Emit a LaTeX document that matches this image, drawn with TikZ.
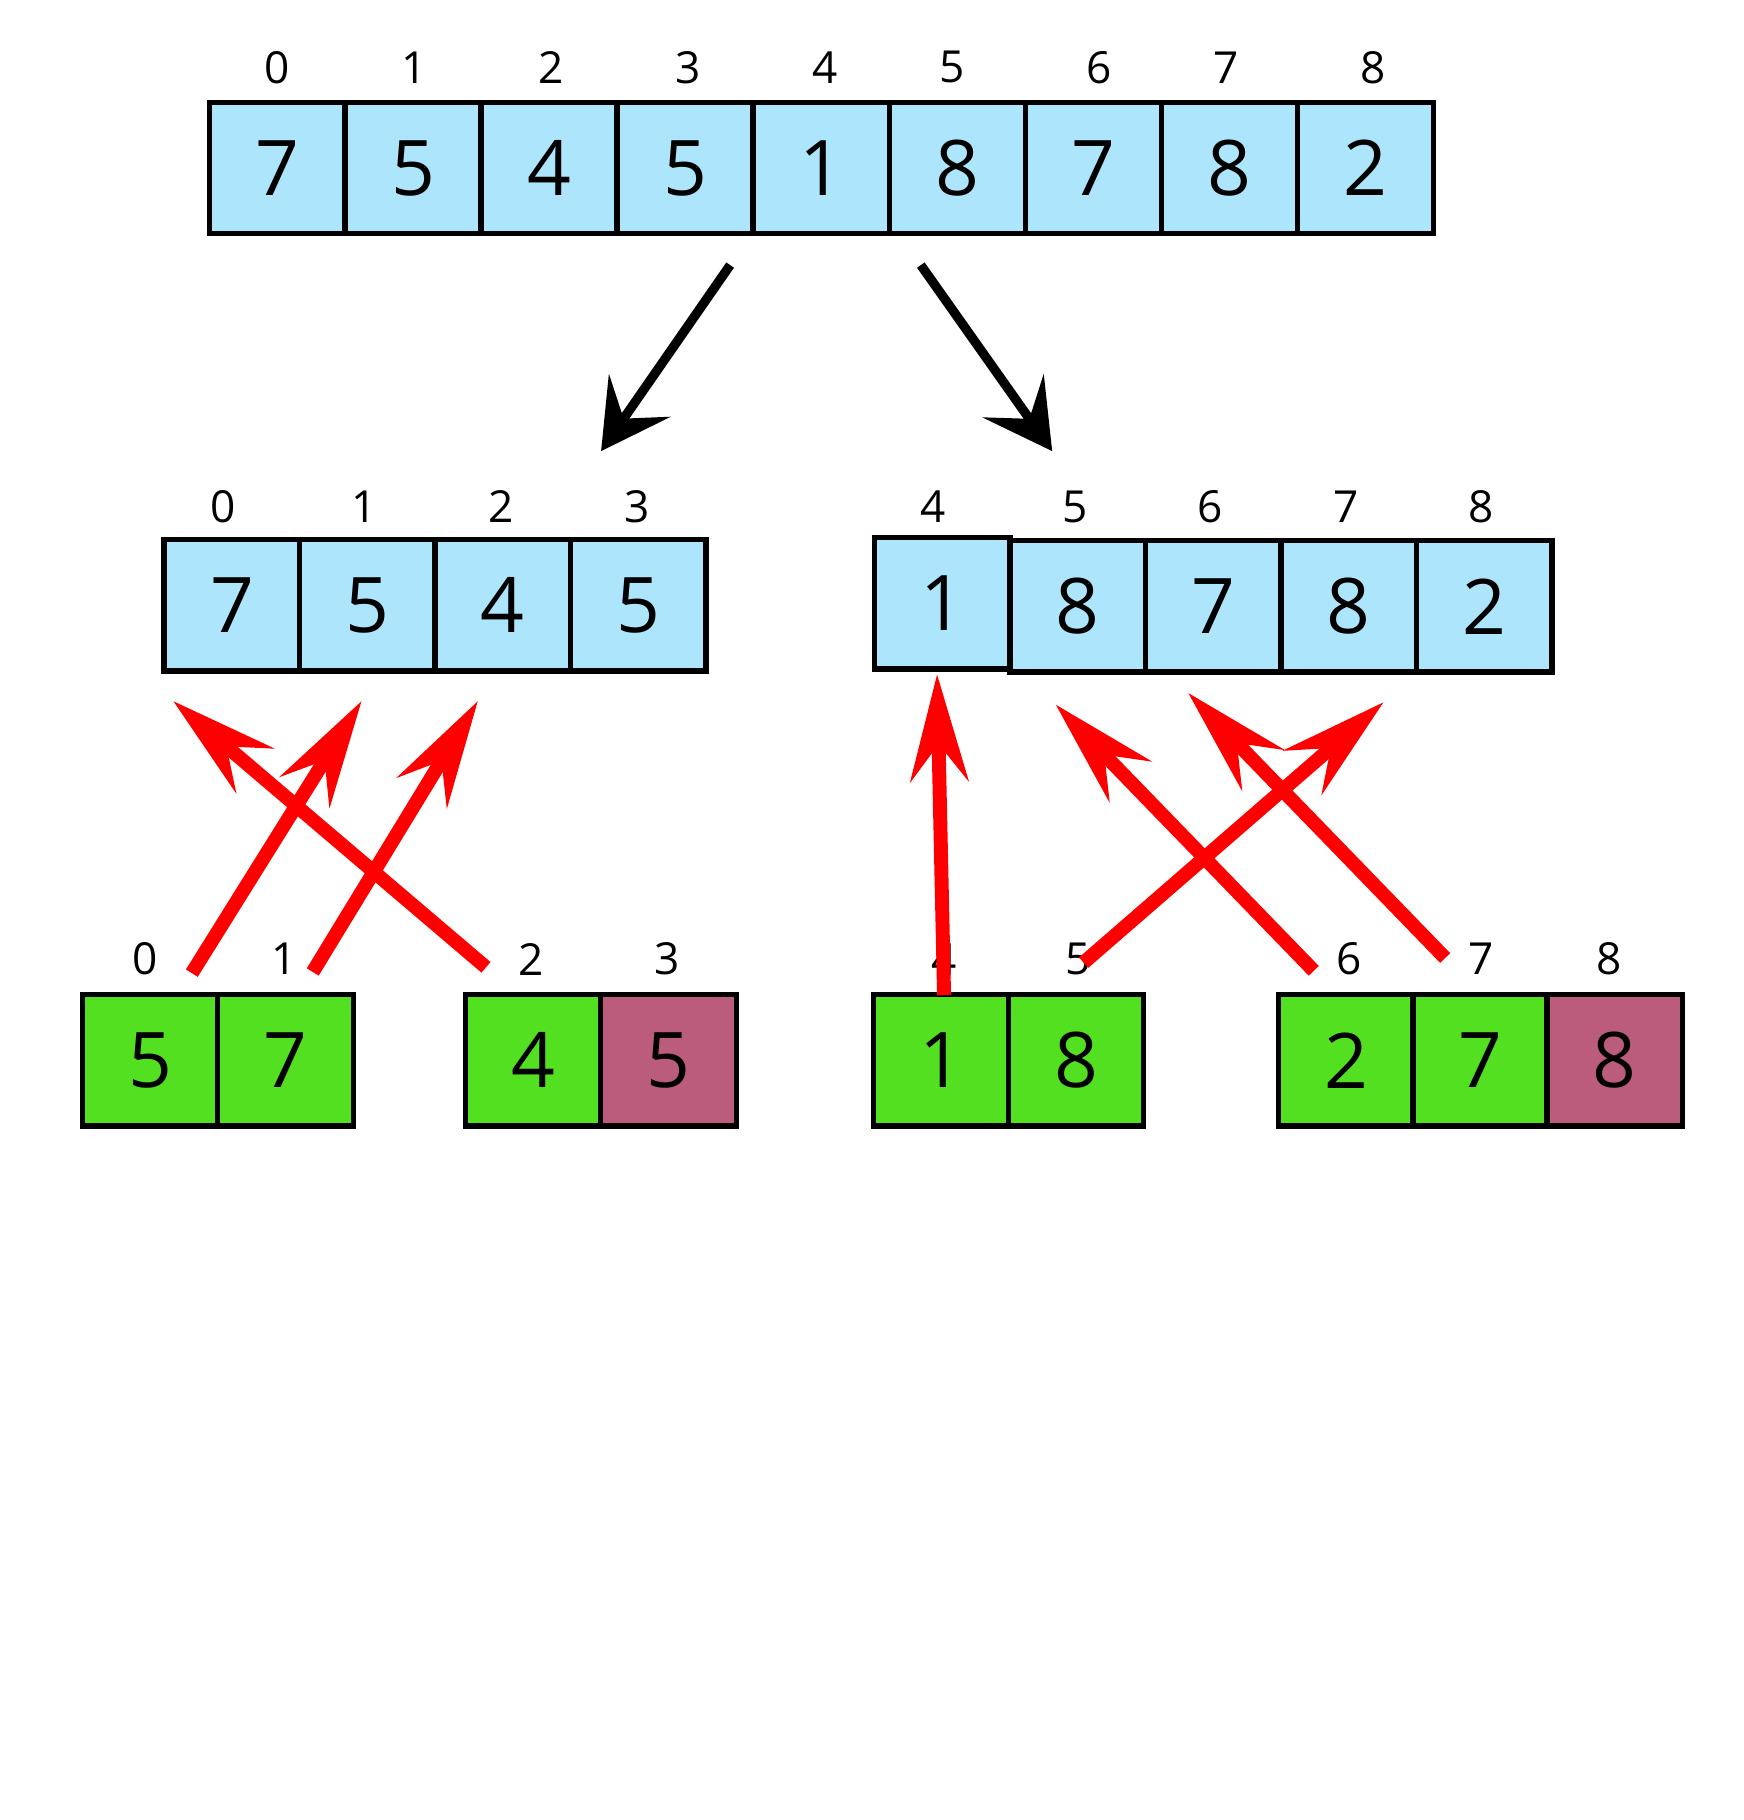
\documentclass[tikz,border=0pt]{standalone}
\usepackage{fontspec}
\setmainfont{Open Sans}
\usetikzlibrary{arrows.meta}
\definecolor{cblue}{RGB}{173,230,252}
\definecolor{cgreen}{RGB}{82,224,33}
\definecolor{cmauve}{RGB}{188,92,124}
\definecolor{cred}{RGB}{255,0,0}
\begin{document}
\begin{tikzpicture}[x=0.5pt,y=-0.5pt,
  cell/.style={draw=black, line width=2.3pt, minimum width=58.3pt, minimum height=56.5pt, inner sep=0pt, font=\fontsize{33}{33}\selectfont},
  idx/.style={font=\fontsize{19}{19}\selectfont, inner sep=0pt},
  bigarrow/.style={draw=black, line width=4pt, -{Stealth[length=29pt,width=32pt,inset=12pt]}},
  redarrow/.style={draw=cred, line width=6pt, -{Stealth[length=46pt,width=25pt,inset=16pt]}}]
\useasboundingbox (0,0) rectangle (1500,1565.4);

% top row
\foreach \v [count=\i from 0] in {7,5,4,5,1,8,7,8,2}
  \node[cell, fill=cblue] (t\i) at (238.5+117*\i,144.5) {\v};
\foreach \x [count=\i from 0] in {238,356,474,592,710,819,945,1055,1181}
  \node[idx] (tl\i) at (\x,58) {\i};

% middle left
\foreach \v [count=\i from 0] in {7,5,4,5}
  \node[cell, fill=cblue] (ml\i) at (199.5+116.5*\i,520.5) {\v};
\foreach \x [count=\i from 0] in {192,313,431,548}
  \node[idx] (mll\i) at (\x,436) {\i};

% middle right
\node[cell, fill=cblue] (mr4) at (810.3,519) {1};
\foreach \v [count=\i from 5] in {8,7,8,2}
  \node[cell, fill=cblue] (mr\i) at (810.3+116.6*\i-116.6*4,521.5) {\v};
\foreach \x [count=\i from 4] in {803,925,1041,1158,1274}
  \node[idx] (mrl\i) at (\x,436) {\i};

% bottom row
\node[cell, fill=cgreen] (b0) at (129,912) {5};
\node[cell, fill=cgreen] (b1) at (245.5,912) {7};
\node[cell, fill=cgreen] (b2) at (458.5,912) {4};
\node[cell, fill=cmauve] (b3) at (575,912) {5};
\node[cell, fill=cgreen] (b4) at (809.5,912) {1};
\node[cell, fill=cgreen] (b5) at (925.5,912) {8};
\node[cell, fill=cgreen] (b6) at (1158,912) {2};
\node[cell, fill=cgreen] (b7) at (1273.5,912) {7};
\node[cell, fill=cmauve] (b8) at (1389,912) {8};
\foreach \x [count=\i from 0] in {125,244,457,574,812,927,1160,1274,1384}
  \node[idx] (bl\i) at (\x,825) {\i};

% black arrows
\coordinate (ka1) at (628,228);
\coordinate (kb1) at (517,388);
\coordinate (ka2) at (792,228);
\coordinate (kb2) at (905,388);
\draw[bigarrow] (ka1) -- (kb1);
\draw[bigarrow] (ka2) -- (kb2);

% red arrows
\coordinate (r1a) at (165,837);  \coordinate (r1b) at (311,603);
\coordinate (r2a) at (269,836);  \coordinate (r2b) at (411,603);
\coordinate (r3a) at (418,832);  \coordinate (r3b) at (149,603);
\coordinate (r4a) at (812,856);  \coordinate (r4b) at (806,580);
\coordinate (r5a) at (932,828);  \coordinate (r5b) at (1190,604);
\coordinate (r6a) at (1130,835); \coordinate (r6b) at (908,606);
\coordinate (r7a) at (1243,824); \coordinate (r7b) at (1022,596);
\foreach \k in {1,...,7}
  \draw[redarrow] (r\k a) -- (r\k b);
\end{tikzpicture}
\end{document}
